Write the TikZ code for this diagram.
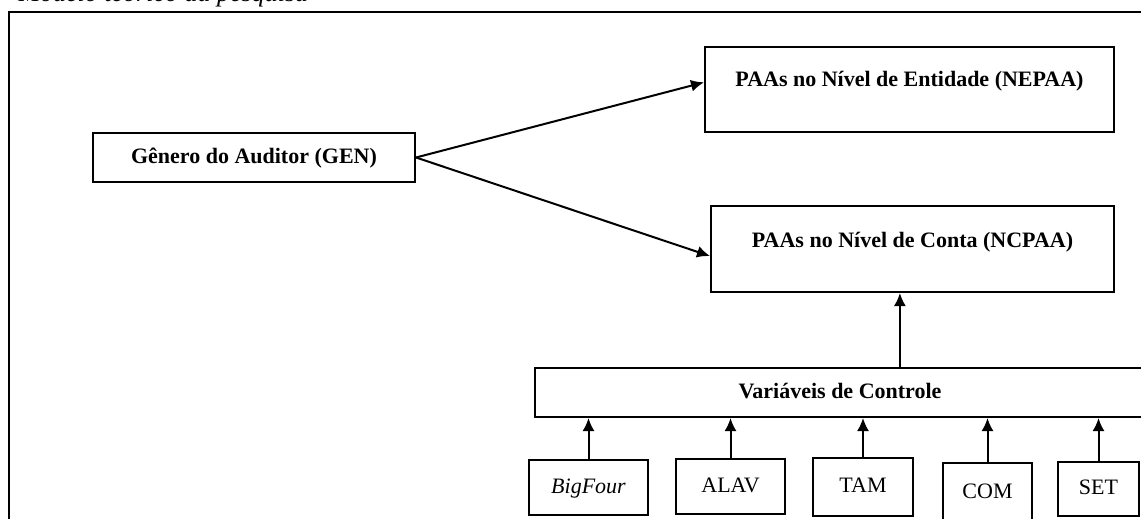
\documentclass[tikz,border=0pt]{standalone}
\usepackage{fontspec}
\setmainfont{Liberation Serif}
\usepackage{tikz}
\usetikzlibrary{arrows,arrows.meta,calc,positioning}
\newcommand{\diagfont}{\fontsize{22}{26}\selectfont}
\tikzset{%
	block/.style    = {draw, rectangle, line width=2pt, inner sep=0pt, text height=16pt, text depth=5pt, font=\diagfont},
	bigblock/.style = {block, font=\diagfont\bfseries}, % Main variables
	frame/.style    = {draw, line width=1.3pt},
	arrow/.style    = {line width=2pt,-{Latex[length=13pt,width=12pt]}},
}

\begin{document}
\begin{tikzpicture}[x=1pt,y=-1pt]
	\useasboundingbox (0,0) rectangle (1141,519);
	\clip (0,0) rectangle (1141,519);
	\draw[frame] (9,12) rectangle (1170,560);
	\node[anchor=base west, font=\fontsize{26}{30}\selectfont\itshape] (title) at (15,2) {Modelo teórico da pesquisa};
	
	\node[bigblock, minimum width=322pt, minimum height=49pt] (gen) at (254,157.5) {Gênero do Auditor (GEN)};
	\node[bigblock, minimum width=409pt, minimum height=85pt, text depth=21pt] (nepaa) at (909.5,89.5) {PAAs no Nível de Entidade (NEPAA)};
	\node[bigblock, minimum width=403pt, minimum height=86pt, text depth=20pt] (ncpaa) at (912.5,249) {PAAs no Nível de Conta (NCPAA)};
	\node[bigblock, minimum width=610pt, minimum height=49pt] (ctrl) at (840,392.5) {Variáveis de Controle};
	
	\node[block, minimum width=119pt, minimum height=55pt] (bigfour) at (588.5,487.5) {\textit{BigFour}};
	\node[block, minimum width=109pt, minimum height=55pt] (alav) at (730.5,486.5) {ALAV};
	\node[block, minimum width=100pt, minimum height=58pt] (tam) at (863,487) {TAM};
	\node[block, minimum width=89pt, minimum height=60pt] (com) at (987.5,493) {COM};
	\node[block, minimum width=81pt, minimum height=54pt] (seto) at (1098.5,489) {SET};
	
	\draw[arrow] (gen.east) -- (nepaa.178);
	\draw[arrow] (gen.east) -- (ncpaa.182);
	\draw[arrow] (ncpaa.254 |- ctrl.north) -- (ncpaa.254);
	\foreach \v in {bigfour,alav,tam,com,seto}
		\draw[arrow] (\v.north) -- (\v.north |- ctrl.south);
\end{tikzpicture}
\end{document}
